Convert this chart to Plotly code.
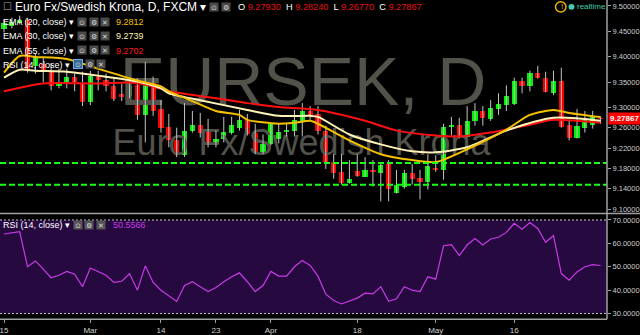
import plotly.graph_objects as go

W, H = 640, 335
FONT = "Liberation Sans, Arial, sans-serif"

# ---------------- data ----------------
opens = [9.4536, 9.4614, 9.4671, 9.4729, 9.3821, 9.3860, 9.3725, 9.3415, 9.3512, 9.3609,
         9.3473, 9.3106, 9.3628, 9.3551, 9.3415, 9.3261, 9.3222, 9.3435, 9.2855, 9.3531,
         9.2971, 9.2623, 9.2353, 9.2063, 9.2546, 9.2662, 9.2527, 9.2275, 9.2372, 9.2507,
         9.2604, 9.2758, 9.2507, 9.2121, 9.2275, 9.2372, 9.2527, 9.2546, 9.2739, 9.2932,
         9.2874, 9.2546, 9.1928, 9.1734, 9.1522, 9.1754, 9.1638, 9.1773, 9.1715, 9.1889,
         9.1309, 9.1444, 9.1715, 9.1618, 9.1541, 9.1792, 9.1773, 9.2623, 9.2662, 9.2430,
         9.2739, 9.2932, 9.2778, 9.2971, 9.3049, 9.3068, 9.3531, 9.3415, 9.3686, 9.3589,
         9.3280, 9.3531, 9.2662, 9.2391, 9.2604, 9.2662, 9.27930]
highs = [9.4729, 9.4768, 9.4807, 9.4768, 9.4053, 9.3995, 9.3860, 9.3763, 9.3763, 9.3667,
         9.3705, 9.3725, 9.3725, 9.3667, 9.3570, 9.3473, 9.3570, 9.3570, 9.3899, 9.3609,
         9.3145, 9.2874, 9.2604, 9.3087, 9.2932, 9.2894, 9.2778, 9.2546, 9.2816, 9.2816,
         9.2952, 9.2874, 9.2681, 9.2469, 9.2700, 9.2681, 9.2700, 9.2952, 9.3087, 9.3029,
         9.3029, 9.2643, 9.2082, 9.2082, 9.1966, 9.2082, 9.2024, 9.1966, 9.1928, 9.1966,
         9.1773, 9.1773, 9.1889, 9.1773, 9.2082, 9.2063, 9.2681, 9.2816, 9.2797, 9.3029,
         9.3087, 9.3029, 9.3145, 9.3280, 9.3435, 9.3589, 9.3589, 9.3725, 9.3821, 9.3705,
         9.3725, 9.3783, 9.2758, 9.2971, 9.2932, 9.2932, 9.28240]
lows = [9.4478, 9.4556, 9.4633, 9.3686, 9.3667, 9.3500, 9.3338, 9.3377, 9.3377, 9.3319,
        9.3029, 9.3049, 9.3338, 9.3319, 9.3126, 9.3126, 9.3184, 9.2758, 9.2314, 9.2836,
        9.2507, 9.2217, 9.2024, 9.2024, 9.2507, 9.2411, 9.2217, 9.2217, 9.2314, 9.2469,
        9.2546, 9.2449, 9.2082, 9.2082, 9.2256, 9.2295, 9.2430, 9.2430, 9.2430, 9.2758,
        9.2469, 9.1792, 9.1599, 9.1483, 9.1502, 9.1638, 9.1638, 9.1444, 9.1154, 9.1154,
        9.1309, 9.1406, 9.1483, 9.1193, 9.1386, 9.1734, 9.1580, 9.2449, 9.2391, 9.2411,
        9.2643, 9.2643, 9.2739, 9.2855, 9.2932, 9.3049, 9.3280, 9.3319, 9.3570, 9.3299,
        9.3242, 9.2604, 9.2353, 9.2391, 9.2507, 9.2585, 9.26770]
closes = [9.4671, 9.4691, 9.4729, 9.3725, 9.3995, 9.3705, 9.3415, 9.3512, 9.3609, 9.3512,
          9.3106, 9.3628, 9.3551, 9.3415, 9.3164, 9.3222, 9.3415, 9.2855, 9.3531, 9.2932,
          9.2604, 9.2353, 9.2063, 9.2546, 9.2662, 9.2507, 9.2275, 9.2372, 9.2527, 9.2662,
          9.2758, 9.2488, 9.2121, 9.2275, 9.2681, 9.2527, 9.2565, 9.2758, 9.2932, 9.2855,
          9.2546, 9.1928, 9.1715, 9.1522, 9.1599, 9.1657, 9.1773, 9.1734, 9.1870, 9.1406,
          9.1483, 9.1715, 9.1599, 9.1541, 9.1850, 9.1773, 9.2623, 9.2662, 9.2430, 9.2739,
          9.2932, 9.2797, 9.2990, 9.3068, 9.3222, 9.3531, 9.3415, 9.3686, 9.3589, 9.3299,
          9.3531, 9.2623, 9.2391, 9.2643, 9.2758, 9.2816, 9.27867]

rsi = [64, 64.4, 65, 50, 52.5, 49, 45.3, 46.4, 48, 46.8,
       41.5, 49.5, 48, 46.4, 43.3, 43.8, 47, 40, 50.4, 43.3,
       40, 37.7, 35.2, 42, 43.6, 41.5, 39.4, 41.1, 43.6, 45.7,
       47.4, 43.6, 39.4, 42, 48, 46, 46, 50, 52.7, 50.6,
       46, 38.3, 35.6, 34.1, 35.2, 36.6, 38.7, 38.4, 41.5, 35.2,
       36.3, 41.5, 40, 39.4, 45.7, 44.7, 59, 59.5, 54.8, 59.3,
       62.1, 59.3, 61.9, 62.6, 64.7, 68.6, 66.1, 68.9, 66.4, 60.5,
       63.3, 47.1, 44.3, 47.8, 50, 50.9, 50.5566]

ema20_idx = [0, 2, 4, 8, 12, 17, 20, 21, 24, 27, 30, 31, 35, 37, 39, 40, 44, 48, 52, 55, 59, 64, 67, 70, 72, 76]
ema20_val = [9.3686, 9.4015, 9.3995, 9.3957, 9.3763, 9.3531, 9.3415, 9.3319, 9.3126, 9.2932, 9.2855, 9.2758,
             9.2681, 9.2700, 9.2739, 9.2681, 9.2353, 9.2082, 9.1966, 9.1928, 9.2179, 9.2565, 9.2855, 9.2952,
             9.2894, 9.2812]
ema30_idx = [0, 2, 4, 8, 12, 17, 20, 21, 25, 31, 35, 39, 40, 44, 48, 52, 55, 59, 64, 70, 76]
ema30_val = [9.3589, 9.3744, 9.3725, 9.3705, 9.3628, 9.3512, 9.3377, 9.3280, 9.3145, 9.2952, 9.2836, 9.2836,
             9.2816, 9.2469, 9.2275, 9.2140, 9.2121, 9.2217, 9.2546, 9.2797, 9.2739]
ema55_idx = [0, 5, 12, 16, 19, 21, 27, 31, 35, 40, 46, 50, 55, 58, 62, 64, 67, 70, 76]
ema55_val = [9.3319, 9.3473, 9.3473, 9.3493, 9.3415, 9.3319, 9.3184, 9.3087, 9.3010, 9.2952, 9.2739, 9.2546,
             9.2449, 9.2430, 9.2507, 9.2565, 9.2662, 9.2758, 9.2702]

level_lines = [9.191, 9.148]

tick_idx = [0, 11, 20, 27, 34, 45, 55, 65]
tick_text = ["15", "Mar", "14", "23", "Apr", "18", "May", "16"]
price_ticks = [9.50, 9.45, 9.40, 9.35, 9.30, 9.26, 9.22, 9.18, 9.14, 9.10]
rsi_ticks = [70, 60, 50, 40, 30]
rsi_band = [30, 70]

# ---------------- figure ----------------
N = len(closes)
xi = list(range(N))
XR = 607 / W  # right edge of plot area (paper)

fig = go.Figure()

# watermark (drawn first -> beneath candles)
fig.add_trace(go.Scatter(x=[38.1], y=[9.3387], mode="text", text=["EURSEK, D"],
                         textfont=dict(family=FONT, size=68, color="#52524b"),
                         hoverinfo="skip", showlegend=False))
fig.add_trace(go.Scatter(x=[37.9], y=[9.2237], mode="text", text=["Euro Fx/Swedish Krona"],
                         textfont=dict(family=FONT, size=36, color="#52524b"),
                         hoverinfo="skip", showlegend=False))

# wicks
wx, wy = [], []
for i in xi:
    wx += [i, i, None]
    wy += [lows[i], highs[i], None]
fig.add_trace(go.Scatter(x=wx, y=wy, mode="lines", line=dict(color="#c4c4c4", width=1),
                         hoverinfo="skip", showlegend=False))

# bodies
base = [min(o, c) for o, c in zip(opens, closes)]
hgt = [max(abs(c - o), 0.0005) for o, c in zip(opens, closes)]
cols = ["#00f000" if c >= o else "#f80000" for o, c in zip(opens, closes)]
fig.add_trace(go.Bar(x=xi, y=hgt, base=base, width=0.66, marker=dict(color=cols, line=dict(width=0)),
                     showlegend=False, hoverinfo="skip"))

# EMAs
fig.add_trace(go.Scatter(x=ema55_idx, y=ema55_val, mode="lines",
                         line=dict(color="#ff1010", width=2, shape="spline", smoothing=0.7), showlegend=False))
fig.add_trace(go.Scatter(x=ema30_idx, y=ema30_val, mode="lines",
                         line=dict(color="#fff3b8", width=2, shape="spline", smoothing=0.7), showlegend=False))
fig.add_trace(go.Scatter(x=ema20_idx, y=ema20_val, mode="lines",
                         line=dict(color="#f5c000", width=2, shape="spline", smoothing=0.7), showlegend=False))

# RSI
fig.add_trace(go.Scatter(x=xi, y=rsi, mode="lines", xaxis="x", yaxis="y2",
                         line=dict(color="#c83ae8", width=1.2), showlegend=False))

shapes = []
shapes.append(dict(type="rect", xref="paper", yref="y2", x0=0, x1=XR, y0=rsi_band[0], y1=rsi_band[1],
                   fillcolor="#260a3f", line=dict(width=0), layer="below"))
for v in rsi_band:
    shapes.append(dict(type="line", xref="paper", yref="y2", x0=0, x1=XR, y0=v, y1=v,
                       line=dict(color="#c8c8c8", width=1, dash="2px,2px")))
for v in level_lines:
    shapes.append(dict(type="line", xref="paper", yref="y", x0=0, x1=XR, y0=v, y1=v,
                       line=dict(color="#18ff18", width=2, dash="6px,3px")))
# pane separators / axis lines
sep_y = 1 - 217.5 / H
bot_y = 1 - 325 / H
shapes.append(dict(type="line", xref="paper", yref="paper", x0=0, x1=1, y0=sep_y, y1=sep_y,
                   line=dict(color="#a0a0a0", width=1.5)))
shapes.append(dict(type="line", xref="paper", yref="paper", x0=XR, x1=XR, y0=bot_y, y1=1,
                   line=dict(color="#a0a0a0", width=1.5)))
shapes.append(dict(type="line", xref="paper", yref="paper", x0=0, x1=XR, y0=bot_y, y1=bot_y,
                   line=dict(color="#a0a0a0", width=1.5)))
# realtime indicator icons
shapes.append(dict(type="circle", xref="paper", yref="paper", x0=555.5 / W, x1=566 / W,
                   y0=1 - 12.2 / H, y1=1 - 1.8 / H, line=dict(color="#f0b400", width=1.5)))
shapes.append(dict(type="circle", xref="paper", yref="paper", x0=568.5 / W, x1=574.5 / W,
                   y0=1 - 10 / H, y1=1 - 4 / H, fillcolor="#3fcfa9", line=dict(width=0)))


def ann(text, x, y, size, color, **kw):
    d = dict(text=text, x=x / W, y=1 - y / H, xref="paper", yref="paper", xanchor="left",
             yanchor="middle", showarrow=False, font=dict(family=FONT, size=size, color=color))
    d.update(kw)
    return d


def icon(sym, x, y, bg="#4a4a4a", border=None):
    kw = dict(width=8, height=8, bgcolor=bg, borderpad=0)
    if border:
        kw.update(bordercolor=border, borderwidth=1)
    return ann(sym, x, y, 7, "#d8d8d8", **kw)


annots = []
annots.append(ann("☐", 1, 7, 10, "#aaaaaa", font=dict(family="DejaVu Sans", size=10, color="#aaaaaa")))
annots.append(ann("Euro Fx/Swedish Krona, D, FXCM ▾", 13, 7.5, 12, "#ffffff"))
annots.append(icon("⊙", 209, 7))
annots.append(icon("⚙", 221, 7))
red = "#e81010"
ohlc = (f"O <span style='color:{red}'>{opens[-1]:.5f}</span>  H <span style='color:{red}'>{highs[-1]:.5f}</span>"
        f"  L <span style='color:{red}'>{lows[-1]:.5f}</span>  C <span style='color:{red}'>{closes[-1]:.5f}</span>")
annots.append(ann(ohlc, 236, 7.5, 9.2, "#ffffff"))
annots.append(ann("!", 559.2, 7, 8, "#f0b400", font=dict(family=FONT, size=8, color="#f0b400")))
annots.append(ann("realtime", 575, 7, 8, "#3fcfa9"))

ema_rows = [("EMA (20, close) ▾", ema20_val[-1], "#f5c000", 22),
            ("EMA (30, close) ▾", ema30_val[-1], "#fff3b8", 36.5),
            ("EMA (55, close) ▾", ema55_val[-1], "#ff1818", 51)]
for label, val, col, y in ema_rows:
    annots.append(ann(label, 1, y, 9, "#ffffff", height=11))
    annots.append(icon("⊙", 77, y))
    annots.append(icon("⚙", 88.5, y))
    annots.append(icon("✕", 100, y))
    annots.append(ann(f"{val:.4f}", 114, y, 9, col, height=11))

annots.append(ann("RSI (14, close) ▾", 1, 65.5, 9, "#ffffff", height=11))
annots.append(icon("⊙", 73, 65.5, bg="#356a94", border="#6ab0f0"))
annots.append(icon("⚙", 84.5, 65.5))
annots.append(icon("✕", 96, 65.5))

annots.append(ann("RSI (14, close) ▾", 1, 229, 9, "#ffffff", height=11))
annots.append(icon("⊙", 72.5, 229, bg="#555555"))
annots.append(icon("⚙", 84, 229, bg="#555555"))
annots.append(icon("✕", 96, 229, bg="#555555"))
annots.append(ann(f"{rsi[-1]:.4f}", 111, 229, 9, "#c83ae8", height=11))

# last price label
annots.append(dict(text=f"<b>{closes[-1]:.5f}</b>", x=XR + 1 / W, y=closes[-1], xref="paper", yref="y",
                   xanchor="left", yanchor="middle", showarrow=False, bgcolor="#ff0000", borderpad=1,
                   font=dict(family=FONT, size=8, color="#ffffff")))

axfont = dict(family=FONT, size=7.5, color="#cfcfcf")
fig.update_layout(
    width=W, height=H, margin=dict(l=0, r=0, t=0, b=0),
    paper_bgcolor="#000000", plot_bgcolor="rgba(0,0,0,0)",
    barmode="overlay", bargap=0, showlegend=False,
    shapes=shapes, annotations=annots,
    xaxis=dict(domain=[0, XR], range=[-0.51, 76.82], anchor="y2", tickvals=tick_idx, ticktext=tick_text,
               ticks="outside", ticklen=3, tickcolor="#a0a0a0", showgrid=False, zeroline=False,
               showline=False, ticklabeloverflow="allow",
               tickfont=dict(family=FONT, size=8, color="#d0d0d0")),
    yaxis=dict(domain=[1 - 217 / H, 1], range=[9.09227, 9.51159], side="right", anchor="x",
               tickvals=price_ticks, ticktext=[f"{v:.5f}" for v in price_ticks],
               ticks="outside", ticklen=3, tickcolor="#a0a0a0", showgrid=False, zeroline=False,
               showline=False, tickfont=axfont),
    yaxis2=dict(domain=[1 - 325 / H, 1 - 218 / H], range=[27.6, 72.52], side="right", anchor="x",
                tickvals=rsi_ticks, ticktext=[f"{v:.4f}" for v in rsi_ticks],
                ticks="outside", ticklen=3, tickcolor="#a0a0a0", showgrid=False, zeroline=False,
                showline=False, tickfont=axfont),
)

fig.write_html("out.html")
